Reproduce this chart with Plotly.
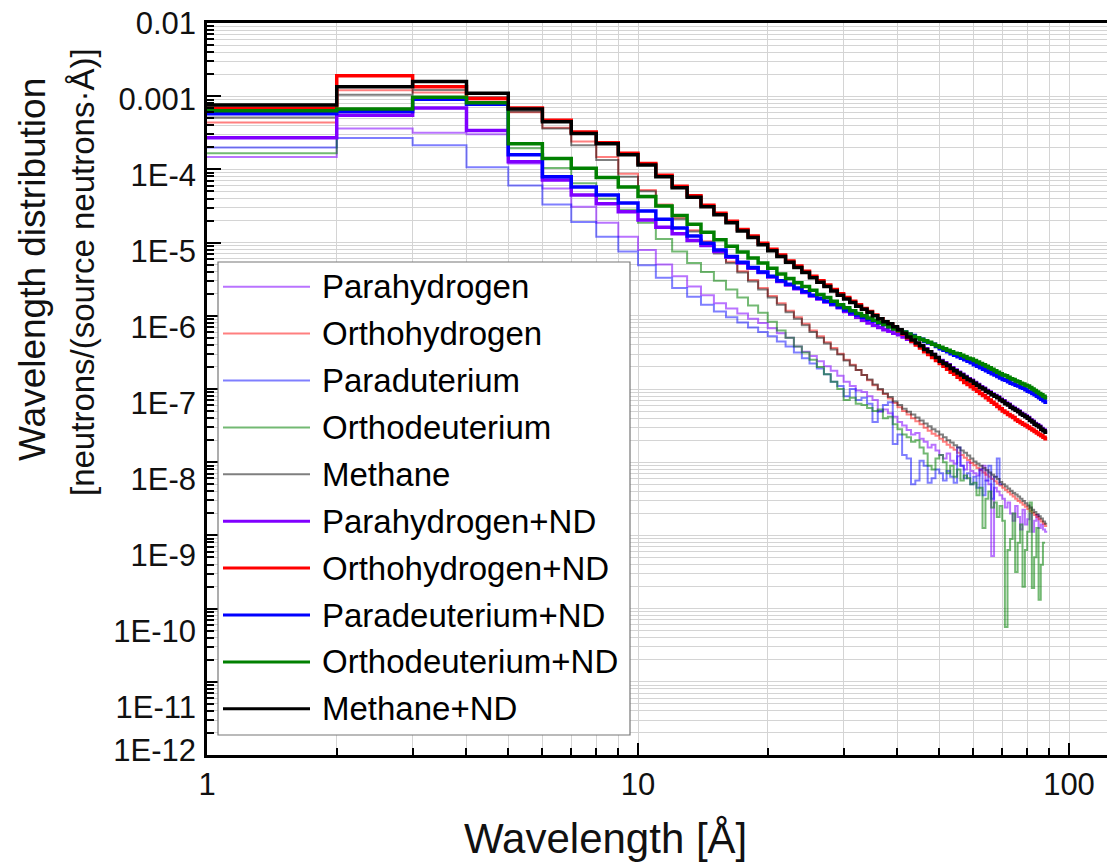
import plotly.graph_objects as go

# ---------------- data (log10 of wavelength distribution, 1 Å bins starting at 1 Å) -------------
bin_left = list(range(1, 90))  # bin edges in Å

parahydrogen = [-3.83,-3.44,-3.50,-3.52,-3.92,-4.26,-4.51,-4.73,-4.92,-5.10,
 -5.30,-5.46,-5.60,-5.72,-5.83,-5.90,-5.97,-6.04,-6.10,-6.17,
 -6.24,-6.30,-6.42,-6.49,-6.55,-6.62,-6.69,-6.75,-6.82,-6.90,
 -6.96,-7.02,-7.04,-7.10,-7.15,-7.31,-7.28,-7.33,-7.38,-7.45,
 -7.50,-7.56,-7.62,-7.60,-7.68,-7.72,-7.80,-7.76,-7.84,-7.90,
 -7.95,-7.88,-7.98,-8.02,-7.92,-8.05,-8.10,-8.00,-8.12,-8.15,
 -8.18,-8.10,-8.05,-8.25,-8.30,-9.28,-8.35,-8.40,-8.45,-8.50,
 -8.62,-8.55,-8.70,-8.80,-8.60,-8.75,-8.92,-8.65,-8.85,-8.78,
 -8.70,-8.95,-8.80,-8.72,-8.90,-8.85,-8.92,-8.95]

orthohydrogen = [-3.36,-2.92,-2.95,-3.04,-3.22,-3.43,-3.62,-3.83,-4.06,-4.28,
 -4.48,-4.66,-4.83,-4.98,-5.13,-5.26,-5.39,-5.51,-5.62,-5.73,
 -5.83,-5.93,-6.02,-6.11,-6.20,-6.28,-6.36,-6.44,-6.52,-6.60,
 -6.67,-6.74,-6.81,-6.88,-6.95,-7.01,-7.07,-7.13,-7.19,-7.25,
 -7.30,-7.35,-7.40,-7.44,-7.48,-7.53,-7.57,-7.61,-7.64,-7.68,
 -7.72,-7.76,-7.80,-7.83,-7.87,-7.90,-7.94,-7.97,-8.01,-8.04,
 -8.08,-8.11,-8.14,-8.17,-8.20,-8.23,-8.26,-8.29,-8.32,-8.35,
 -8.38,-8.41,-8.44,-8.47,-8.50,-8.53,-8.55,-8.58,-8.61,-8.64,
 -8.67,-8.69,-8.72,-8.75,-8.78,-8.81,-8.84,-8.87]

paraduterium = [-3.70,-3.57,-3.67,-3.97,-4.22,-4.48,-4.72,-4.92,-5.12,-5.31,
 -5.48,-5.62,-5.74,-5.85,-5.94,-6.02,-6.09,-6.16,-6.22,-6.28,
 -6.35,-6.42,-6.50,-6.58,-6.65,-6.72,-6.80,-6.90,-6.96,-7.10,
 -7.00,-7.15,-7.12,-7.20,-7.45,-7.30,-7.22,-7.18,-7.75,-7.62,
 -7.90,-7.95,-8.30,-8.25,-7.98,-8.05,-8.28,-8.22,-8.10,-8.15,
 -8.25,-8.12,-8.20,-8.28,-7.80,-8.05,-8.22,-8.15,-8.30,-8.20,
 -8.35,-8.10,-8.45,-8.25,-8.05,-8.50,-8.20,-7.95,-8.30]

orthodeuterium = [-3.78,-3.22,-3.05,-3.12,-3.71,-3.98,-4.19,-4.40,-4.55,-4.73,
 -4.95,-5.12,-5.28,-5.40,-5.52,-5.64,-5.75,-5.86,-5.96,-6.08,
 -6.20,-6.30,-6.42,-6.50,-6.60,-6.70,-6.80,-6.90,-7.00,-7.15,
 -7.12,-7.20,-7.22,-7.26,-7.30,-7.28,-7.40,-7.38,-7.48,-7.55,
 -7.62,-7.66,-7.72,-7.70,-7.80,-7.88,-8.05,-8.10,-7.95,-7.90,
 -8.00,-8.15,-8.05,-8.20,-8.10,-8.25,-8.18,-8.22,-8.30,-8.28,
 -8.45,-8.35,-8.90,-8.50,-8.40,-8.62,-8.55,-8.75,-8.60,-8.80,
 -10.25,-9.20,-9.05,-8.70,-9.50,-9.10,-8.85,-9.70,-9.20,-8.95,
 -8.55,-9.72,-9.30,-8.90,-9.88,-9.40,-9.10]

methane = [-3.29,-2.98,-2.915,-3.015,-3.21,-3.44,-3.67,-3.87,-4.10,-4.30,
 -4.50,-4.68,-4.85,-5.00,-5.15,-5.28,-5.41,-5.53,-5.64,-5.75,
 -5.85,-5.95,-6.04,-6.13,-6.22,-6.30,-6.38,-6.46,-6.53,-6.61,
 -6.68,-6.74,-6.81,-6.87,-6.94,-7.00,-7.06,-7.11,-7.17,-7.22,
 -7.27,-7.31,-7.35,-7.39,-7.43,-7.47,-7.51,-7.55,-7.58,-7.62,
 -7.66,-7.70,-7.73,-7.77,-7.80,-7.84,-7.87,-7.91,-7.95,-7.99,
 -8.02,-8.05,-8.08,-8.11,-8.14,-8.17,-8.20,-8.23,-8.27,-8.30,
 -8.33,-8.36,-8.39,-8.42,-8.44,-8.47,-8.50,-8.53,-8.56,-8.59,
 -8.62,-8.65,-8.68,-8.71,-8.74,-8.77,-8.81,-8.84]

parahydrogen_nd = [-3.567,-3.26,-3.16,-3.47,-3.895,-4.145,-4.35,-4.47,-4.58,-4.69,
 -4.79,-4.88,-4.97,-5.04,-5.12,-5.20,-5.28,-5.35,-5.41,-5.47,
 -5.53,-5.58,-5.63,-5.68,-5.73,-5.77,-5.81,-5.85,-5.89,-5.94,
 -5.98,-6.02,-6.06,-6.10,-6.13,-6.16,-6.19,-6.21,-6.24,-6.26,
 -6.29,-6.32,-6.35,-6.38,-6.41,-6.45,-6.49,-6.53,-6.57,-6.61,
 -6.64,-6.67,-6.71,-6.74,-6.77,-6.80,-6.83,-6.86,-6.88,-6.91,
 -6.94,-6.97,-6.99,-7.02,-7.04,-7.07,-7.09,-7.11,-7.14,-7.16,
 -7.19,-7.21,-7.24,-7.26,-7.28,-7.30,-7.33,-7.35,-7.37,-7.39,
 -7.42,-7.44,-7.47,-7.49,-7.51,-7.54,-7.56,-7.58]

orthohydrogen_nd = [-3.165,-2.72,-2.87,-3.03,-3.16,-3.33,-3.49,-3.635,-3.78,-3.92,
 -4.08,-4.23,-4.36,-4.49,-4.60,-4.71,-4.82,-4.91,-5.01,-5.09,
 -5.17,-5.25,-5.32,-5.39,-5.46,-5.52,-5.58,-5.64,-5.70,-5.75,
 -5.80,-5.85,-5.90,-5.94,-5.99,-6.04,-6.08,-6.12,-6.16,-6.21,
 -6.25,-6.30,-6.35,-6.40,-6.44,-6.49,-6.53,-6.57,-6.61,-6.65,
 -6.69,-6.73,-6.77,-6.80,-6.84,-6.87,-6.91,-6.94,-6.97,-7.00,
 -7.03,-7.06,-7.09,-7.12,-7.15,-7.18,-7.21,-7.24,-7.27,-7.30,
 -7.32,-7.35,-7.37,-7.39,-7.42,-7.44,-7.46,-7.48,-7.50,-7.52,
 -7.54,-7.56,-7.58,-7.60,-7.62,-7.64,-7.66,-7.68]

paradeuterium_nd = [-3.24,-3.21,-3.04,-3.11,-3.80,-4.10,-4.24,-4.35,-4.46,-4.57,
 -4.68,-4.80,-4.91,-5.01,-5.10,-5.19,-5.27,-5.34,-5.40,-5.46,
 -5.52,-5.57,-5.62,-5.67,-5.72,-5.76,-5.80,-5.84,-5.88,-5.92,
 -5.96,-5.99,-6.02,-6.05,-6.07,-6.10,-6.12,-6.15,-6.17,-6.20,
 -6.22,-6.25,-6.27,-6.30,-6.32,-6.35,-6.37,-6.39,-6.42,-6.45,
 -6.47,-6.49,-6.52,-6.54,-6.56,-6.58,-6.60,-6.62,-6.64,-6.67,
 -6.69,-6.71,-6.73,-6.75,-6.77,-6.79,-6.81,-6.83,-6.85,-6.87,
 -6.88,-6.90,-6.92,-6.93,-6.95,-6.96,-6.98,-6.99,-7.01,-7.03,
 -7.04,-7.06,-7.08,-7.10,-7.12,-7.14,-7.16,-7.18]

orthodeuterium_nd = [-3.20,-3.175,-3.015,-3.09,-3.65,-3.85,-3.985,-4.11,-4.24,-4.37,
 -4.50,-4.63,-4.75,-4.86,-4.96,-5.05,-5.13,-5.21,-5.28,-5.35,
 -5.43,-5.49,-5.55,-5.60,-5.65,-5.71,-5.75,-5.80,-5.85,-5.89,
 -5.93,-5.97,-6.00,-6.03,-6.06,-6.09,-6.12,-6.15,-6.18,-6.20,
 -6.22,-6.25,-6.28,-6.30,-6.32,-6.34,-6.36,-6.39,-6.41,-6.43,
 -6.45,-6.47,-6.49,-6.51,-6.52,-6.54,-6.56,-6.58,-6.59,-6.61,
 -6.63,-6.65,-6.67,-6.69,-6.71,-6.73,-6.75,-6.77,-6.79,-6.81,
 -6.82,-6.84,-6.86,-6.87,-6.89,-6.90,-6.92,-6.93,-6.95,-6.96,
 -6.98,-7.00,-7.02,-7.04,-7.06,-7.08,-7.10,-7.12]

methane_nd = [-3.12,-2.87,-2.80,-2.96,-3.175,-3.35,-3.51,-3.65,-3.80,-3.94,
 -4.10,-4.25,-4.38,-4.51,-4.62,-4.73,-4.84,-4.93,-5.03,-5.11,
 -5.19,-5.27,-5.34,-5.41,-5.48,-5.54,-5.60,-5.66,-5.72,-5.77,
 -5.82,-5.87,-5.91,-5.95,-6.00,-6.04,-6.08,-6.11,-6.15,-6.19,
 -6.24,-6.29,-6.33,-6.37,-6.41,-6.46,-6.49,-6.53,-6.57,-6.62,
 -6.65,-6.68,-6.72,-6.75,-6.78,-6.81,-6.84,-6.87,-6.89,-6.92,
 -6.95,-6.98,-7.00,-7.03,-7.05,-7.08,-7.10,-7.12,-7.15,-7.17,
 -7.20,-7.22,-7.25,-7.27,-7.29,-7.31,-7.34,-7.36,-7.38,-7.40,
 -7.43,-7.45,-7.48,-7.50,-7.52,-7.55,-7.57,-7.59]

series_names = ["Parahydrogen", "Orthohydrogen", "Paraduterium", "Orthodeuterium", "Methane",
                "Parahydrogen+ND", "Orthohydrogen+ND", "Paradeuterium+ND", "Orthodeuterium+ND", "Methane+ND"]
series_values = [parahydrogen, orthohydrogen, paraduterium, orthodeuterium, methane,
                 parahydrogen_nd, orthohydrogen_nd, paradeuterium_nd, orthodeuterium_nd, methane_nd]
series_colors = ["rgba(128,0,255,0.55)", "rgba(255,0,0,0.5)", "rgba(0,0,255,0.5)", "rgba(0,128,0,0.55)",
                 "rgba(0,0,0,0.5)", "#8000ff", "#ff0000", "#0000ff", "#008000", "#000000"]
series_widths = [2, 2, 2, 2, 2, 3.5, 3.5, 3.5, 3.5, 3.5]

y_tick_values = [1e-2, 1e-3, 1e-4, 1e-5, 1e-6, 1e-7, 1e-8, 1e-9, 1e-10, 1e-11, 1e-12]
y_tick_text = ["0.01", "0.001", "1E-4", "1E-5", "1E-6", "1E-7", "1E-8", "1E-9", "1E-10", "1E-11", "1E-12"]
x_tick_values = [1, 10, 100]
x_tick_text = ["1", "10", "100"]

# ---------------- layout geometry ----------------
W, H = 1107, 864
L, R, T, B = 207, 0, 23, 109
PW, PH = W - L - R, H - T - B
FONT = "Liberation Sans, Arial, sans-serif"

# the printed y labels of the original sit on a slightly stretched scale (76 px per decade,
# last label at the bottom edge); an overlaid label-only axis reproduces that placement
LABEL_DECADE_PX = 76.0
label_range_bottom = -2 - PH / LABEL_DECADE_PX
label_vals = y_tick_values[:-1] + [10 ** (-2 - (PH - 5) / LABEL_DECADE_PX)]


def px(xp):
    return (xp - L) / PW


def py(yp):
    return (H - B - yp) / PH


fig = go.Figure()
for name, vals, col, wid in zip(series_names, series_values, series_colors, series_widths):
    n = len(vals)
    xs = bin_left[:n + 1]
    ys = [10 ** v for v in vals] + [10 ** vals[-1]]
    fig.add_trace(go.Scatter(x=xs, y=ys, mode="lines", name=name, line_shape="hv",
                             line=dict(color=col, width=wid), showlegend=False))
# empty trace that keeps the label axis alive
fig.add_trace(go.Scatter(x=[None], y=[None], yaxis="y2", showlegend=False, hoverinfo="skip"))

minor_x = [k * 10 ** e for e in range(0, 3) for k in range(2, 10)]
minor_y = [k * 10.0 ** e for e in range(-12, -2) for k in range(2, 10)]

grid_col = "#d4d4d4"
tick_font = dict(family=FONT, size=31, color="#111")
fig.update_layout(
    xaxis=dict(type="log", range=[0, (W - L) / 431.0], tickvals=x_tick_values, ticktext=x_tick_text,
               ticks="inside", ticklen=12, tickwidth=2, tickcolor="black",
               showline=True, linecolor="black", linewidth=2.5, mirror=True,
               showgrid=True, gridcolor=grid_col, gridwidth=1,
               minor=dict(tickvals=minor_x, ticks="inside", ticklen=7, tickwidth=1.5, tickcolor="black",
                          showgrid=True, gridcolor=grid_col, gridwidth=1),
               tickfont=tick_font, zeroline=False),
    yaxis=dict(type="log", range=[-12, -2], tickvals=y_tick_values, showticklabels=False,
               ticks="inside", ticklen=14, tickwidth=2, tickcolor="black",
               showline=True, linecolor="black", linewidth=2.5, mirror=False,
               showgrid=True, gridcolor=grid_col, gridwidth=1,
               minor=dict(tickvals=minor_y, ticks="inside", ticklen=7, tickwidth=1.5, tickcolor="black",
                          showgrid=True, gridcolor=grid_col, gridwidth=1),
               zeroline=False),
    yaxis2=dict(type="log", overlaying="y", side="left", anchor="x", range=[label_range_bottom, -2],
                tickvals=label_vals, ticktext=y_tick_text, ticks="", showgrid=False, showline=False,
                zeroline=False, tickfont=tick_font, ticklabelstandoff=10),
)

# ---------------- custom legend ----------------
shapes = [dict(type="rect", xref="paper", yref="paper", x0=px(218), x1=px(630), y0=py(735), y1=py(262),
               fillcolor="white", line=dict(color="#777", width=1.2), layer="above")]
annotations = []
for i, (name, col, wid) in enumerate(zip(series_names, series_colors, series_widths)):
    yc = 286.7 + 46.9 * i
    shapes.append(dict(type="line", xref="paper", yref="paper", x0=px(223), x1=px(310),
                       y0=py(yc), y1=py(yc), line=dict(color=col, width=min(wid, 3)), layer="above"))
    annotations.append(dict(text=name, xref="paper", yref="paper", x=px(320), y=py(yc),
                            xanchor="left", yanchor="middle", showarrow=False,
                            font=dict(family=FONT, size=33, color="black")))

# axis titles
annotations.append(dict(text="Wavelength [Å]", xref="paper", yref="paper", x=px(605), y=py(838),
                        xanchor="center", yanchor="middle", showarrow=False,
                        font=dict(family=FONT, size=42, color="#111")))
annotations.append(dict(text="Wavelength distribution", xref="paper", yref="paper", x=px(32), y=py(270),
                        xanchor="center", yanchor="middle", showarrow=False, textangle=-90,
                        font=dict(family=FONT, size=37, color="#111")))
annotations.append(dict(text="[neutrons/(source neutrons·Å)]", xref="paper", yref="paper", x=px(82), y=py(272),
                        xanchor="center", yanchor="middle", showarrow=False, textangle=-90,
                        font=dict(family=FONT, size=33, color="#111")))

fig.update_layout(width=W, height=H, margin=dict(l=L, r=R, t=T, b=B, autoexpand=False),
                  paper_bgcolor="white", plot_bgcolor="white", shapes=shapes, annotations=annotations,
                  showlegend=False)

fig.write_html("out.html")
